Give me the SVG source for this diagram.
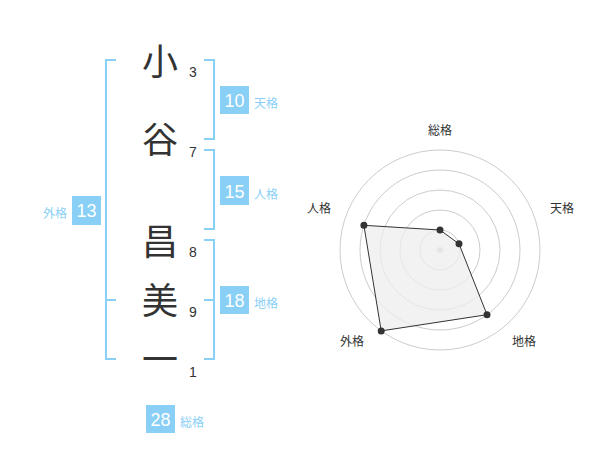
<svg xmlns="http://www.w3.org/2000/svg" width="600" height="470" viewBox="0 0 600 470">
<style>
.kanji{font-family:"Noto Sans CJK JP","Noto Sans",sans-serif;font-size:36px;fill:#333;text-anchor:middle}
.num{font-family:"Liberation Sans",Arial,sans-serif;font-size:14px;fill:#333;text-anchor:middle}
.box{fill:#89cff6}
.bnum{font-family:"Liberation Sans",Arial,sans-serif;font-size:18px;fill:#fff;text-anchor:middle}
.lab{font-family:"Noto Sans CJK JP",sans-serif;font-size:12px;fill:#89cff6}
.br{fill:none;stroke:#89cff6;stroke-width:2}
.ring{fill:none;stroke:#ccc;stroke-width:1}
.rlab{font-family:"Noto Sans CJK JP",sans-serif;font-size:12px;fill:#333;text-anchor:middle}
.dot{fill:#333}
</style>
<rect width="600" height="470" fill="#fff"/>
<g id="connectors">
<polyline class="br" points="116,60 106,60 106,359 116,359"/>
<line class="br" x1="106" y1="300" x2="116" y2="300"/>
<polyline class="br" points="204,60 214,60 214,139 204,139"/>
<polyline class="br" points="204,150 214,150 214,229 204,229"/>
<polyline class="br" points="204,240 214,240 214,359 204,359"/>
<line class="br" x1="204" y1="300" x2="214" y2="300"/>
</g>
<g id="char1"><text class="kanji" x="160" y="75">小</text><text class="num" x="193" y="77">3</text></g>
<g id="char2"><text class="kanji" x="160" y="153">谷</text><text class="num" x="193" y="157">7</text></g>
<g id="char3"><text class="kanji" x="160" y="255">昌</text><text class="num" x="193" y="257">8</text></g>
<g id="char4"><text class="kanji" x="160" y="314">美</text><text class="num" x="193" y="317">9</text></g>
<g id="char5"><text class="kanji" x="160" y="373">一</text><text class="num" x="193" y="377">1</text></g>
<g id="tenkaku"><rect class="box" x="220" y="86" width="29" height="28"/><text class="bnum" x="234.5" y="107">10</text><text class="lab" x="254" y="108">天格</text></g>
<g id="jinkaku"><rect class="box" x="220" y="176" width="29" height="29"/><text class="bnum" x="234.5" y="197.5">15</text><text class="lab" x="254" y="198.5">人格</text></g>
<g id="chikaku"><rect class="box" x="220" y="286" width="29" height="28"/><text class="bnum" x="234.5" y="307">18</text><text class="lab" x="254" y="308">地格</text></g>
<g id="gaikaku"><rect class="box" x="72" y="196" width="29" height="29"/><text class="bnum" x="86.5" y="217">13</text><text class="lab" x="67" y="218" text-anchor="end">外格</text></g>
<g id="soukaku"><rect class="box" x="146" y="405" width="29" height="28"/><text class="bnum" x="160.5" y="426">28</text><text class="lab" x="180" y="427">総格</text></g>
<g id="radar">
<circle class="ring" cx="440" cy="250" r="20"/>
<circle class="ring" cx="440" cy="250" r="40"/>
<circle class="ring" cx="440" cy="250" r="60"/>
<circle class="ring" cx="440" cy="250" r="80"/>
<circle class="ring" cx="440" cy="250" r="100"/>
<circle cx="440" cy="250" r="3" fill="#ccc"/>
<polygon points="440,230 459,243.8 487,314.7 381.2,330.9 363.9,225.3" fill="#eee" fill-opacity="0.75" stroke="#333" stroke-width="1"/>
<circle class="dot" cx="440" cy="230" r="3.5"/>
<circle class="dot" cx="459" cy="243.8" r="3.5"/>
<circle class="dot" cx="487" cy="314.7" r="3.5"/>
<circle class="dot" cx="381.2" cy="330.9" r="3.5"/>
<circle class="dot" cx="363.9" cy="225.3" r="3.5"/>
<text class="rlab" x="440" y="135">総格</text>
<text class="rlab" x="562" y="213">天格</text>
<text class="rlab" x="524" y="346">地格</text>
<text class="rlab" x="352" y="346">外格</text>
<text class="rlab" x="319" y="213">人格</text>
</g>
</svg>
